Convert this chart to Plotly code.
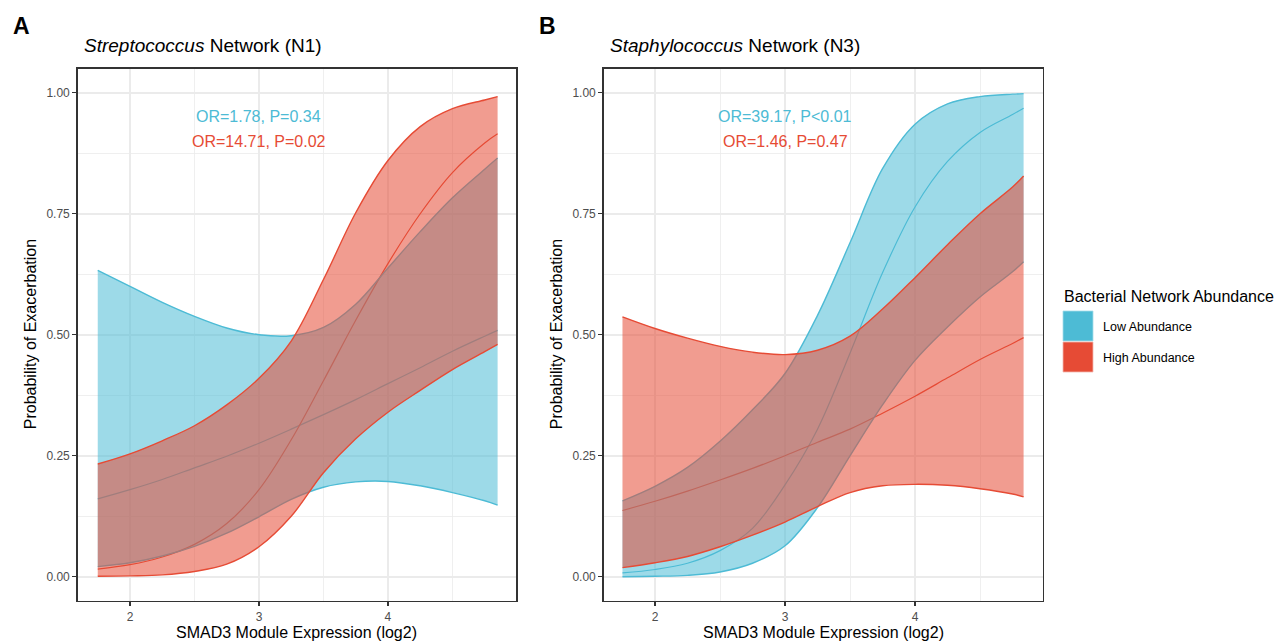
import plotly.graph_objects as go

# ---------------- data ----------------
x_a = [1.75, 2.0, 2.25, 2.5, 2.75, 3.0, 3.25, 3.5, 3.75, 4.0, 4.25, 4.5, 4.75, 4.85]
x_b = [1.75, 2.0, 2.25, 2.5, 2.75, 3.0, 3.25, 3.5, 3.75, 4.0, 4.25, 4.5, 4.75, 4.835]

groups = ["Low Abundance", "High Abundance"]

# Panel A: Streptococcus Network (N1)
low_fit_a = [0.161, 0.180, 0.201, 0.225, 0.249, 0.276, 0.305, 0.335, 0.366, 0.399, 0.432, 0.466, 0.497, 0.509]
low_lo_a = [0.021, 0.029, 0.043, 0.063, 0.090, 0.124, 0.160, 0.185, 0.196, 0.197, 0.188, 0.174, 0.157, 0.148]
low_hi_a = [0.633, 0.600, 0.567, 0.538, 0.514, 0.500, 0.498, 0.515, 0.563, 0.638, 0.713, 0.783, 0.842, 0.865]
high_fit_a = [0.016, 0.025, 0.041, 0.067, 0.110, 0.180, 0.283, 0.405, 0.530, 0.647, 0.750, 0.835, 0.896, 0.915]
high_lo_a = [0.001, 0.002, 0.004, 0.011, 0.026, 0.062, 0.125, 0.215, 0.285, 0.340, 0.385, 0.428, 0.465, 0.480]
high_hi_a = [0.233, 0.254, 0.281, 0.312, 0.355, 0.410, 0.487, 0.614, 0.752, 0.860, 0.930, 0.967, 0.985, 0.992]

# Panel B: Staphylococcus Network (N3)
low_fit_b = [0.008, 0.015, 0.028, 0.054, 0.100, 0.190, 0.305, 0.462, 0.628, 0.764, 0.858, 0.918, 0.955, 0.968]
low_lo_b = [0.000, 0.001, 0.003, 0.010, 0.028, 0.064, 0.143, 0.250, 0.355, 0.447, 0.516, 0.578, 0.630, 0.651]
low_hi_b = [0.157, 0.187, 0.226, 0.280, 0.345, 0.420, 0.540, 0.690, 0.843, 0.935, 0.977, 0.992, 0.997, 0.998]
high_fit_b = [0.137, 0.156, 0.177, 0.200, 0.224, 0.250, 0.278, 0.305, 0.338, 0.373, 0.411, 0.449, 0.482, 0.494]
high_lo_b = [0.019, 0.029, 0.042, 0.062, 0.086, 0.113, 0.145, 0.174, 0.188, 0.191, 0.189, 0.182, 0.171, 0.165]
high_hi_b = [0.537, 0.513, 0.493, 0.476, 0.464, 0.459, 0.468, 0.497, 0.553, 0.618, 0.686, 0.750, 0.805, 0.828]

stats_a = ["OR=1.78, P=0.34", "OR=14.71, P=0.02"]
stats_b = ["OR=39.17, P<0.01", "OR=1.46, P=0.47"]
stat_x = 3.0
stat_y = [0.95, 0.90]

titles = ["<i>Streptococcus</i> Network (N1)", "<i>Staphylococcus</i> Network (N3)"]
panel_labels = ["A", "B"]
x_title = "SMAD3 Module Expression (log2)"
y_title = "Probability of Exacerbation"
legend_title = "Bacterial Network Abundance"

x_ticks = [2, 3, 4]
x_minor = [2.5, 3.5, 4.5]
y_ticks = [0.0, 0.25, 0.5, 0.75, 1.0]
y_minor = [0.125, 0.375, 0.625, 0.875]

# ---------------- styling ----------------
W, H = 1275, 641
FONT = "Liberation Sans, Arial, Helvetica, sans-serif"
colors = ["#4DBBD5", "#E64B35"]
fills = ["rgba(77,187,213,0.55)", "rgba(230,75,53,0.55)"]


def px(v):
    return v / W


def py(v):
    return 1 - v / H


fig = go.Figure()


def add_panel(x, fits, bands, xa, ya):
    # fitted lines first (they sit underneath the ribbons)
    for fit, col in zip(fits, colors):
        fig.add_trace(go.Scatter(x=x, y=fit, mode="lines", xaxis=xa, yaxis=ya,
                                 line=dict(color=col, width=1.2, shape="spline", smoothing=1),
                                 showlegend=False, hoverinfo="skip"))
    for (lo, hi), col, fc in zip(bands, colors, fills):
        fig.add_trace(go.Scatter(x=x, y=lo, mode="lines", xaxis=xa, yaxis=ya,
                                 line=dict(color=col, width=1.4, shape="spline", smoothing=1),
                                 showlegend=False, hoverinfo="skip"))
        fig.add_trace(go.Scatter(x=x, y=hi, mode="lines", xaxis=xa, yaxis=ya, fill="tonexty",
                                 fillcolor=fc,
                                 line=dict(color=col, width=1.4, shape="spline", smoothing=1),
                                 showlegend=False, hoverinfo="skip"))


add_panel(x_a, [low_fit_a, high_fit_a], [(low_lo_a, low_hi_a), (high_lo_a, high_hi_a)], "x", "y")
add_panel(x_b, [low_fit_b, high_fit_b], [(low_lo_b, low_hi_b), (high_lo_b, high_hi_b)], "x2", "y2")

# panel geometry (pixels in the screenshot)
panel_px = [(77.5, 516.3), (603.5, 1042.7)]
top_px, bot_px = 68.5, 601
x_ranges = [[1.593, 4.995], [1.604, 4.982]]

axis_common = dict(showline=True, linecolor="#333333", linewidth=1.3, mirror=True,
                   ticks="outside", ticklen=4, tickwidth=1.1, tickcolor="#333333",
                   showgrid=True, gridcolor="#EBEBEB", gridwidth=1.6, zeroline=False,
                   tickfont=dict(family=FONT, size=12, color="#4D4D4D"))

for i, (l, r) in enumerate(panel_px):
    sx = "" if i == 0 else str(i + 1)
    fig.update_layout(**{
        "xaxis" + sx: dict(axis_common, domain=[px(l), px(r)], range=x_ranges[i],
                           tickvals=x_ticks, ticktext=[str(t) for t in x_ticks],
                           anchor="y" + sx,
                           minor=dict(tickvals=x_minor, showgrid=True, gridcolor="#EBEBEB",
                                      gridwidth=0.8, ticks="")),
        "yaxis" + sx: dict(axis_common, domain=[py(bot_px), py(top_px)], range=[-0.05, 1.05],
                           tickvals=y_ticks, ticktext=["%.2f" % t for t in y_ticks],
                           anchor="x" + sx,
                           minor=dict(tickvals=y_minor, showgrid=True, gridcolor="#EBEBEB",
                                      gridwidth=0.8, ticks="")),
    })

ann = []
for i, (l, r) in enumerate(panel_px):
    sx = "" if i == 0 else str(i + 1)
    stats = stats_a if i == 0 else stats_b
    for txt, yy, col in zip(stats, stat_y, colors):
        ann.append(dict(x=stat_x, y=yy, xref="x" + sx, yref="y" + sx, text=txt, showarrow=False,
                        xanchor="center", yanchor="middle",
                        font=dict(family=FONT, size=16, color=col)))
    # panel label
    ann.append(dict(x=px(l - 67), y=py(26), xref="paper", yref="paper", text="<b>%s</b>" % panel_labels[i],
                    showarrow=False, xanchor="left", yanchor="middle",
                    font=dict(family=FONT, size=23, color="black")))
    # title
    ann.append(dict(x=px(l + 4), y=py(45), xref="paper", yref="paper", text=titles[i],
                    showarrow=False, xanchor="left", yanchor="middle",
                    font=dict(family=FONT, size=19, color="black")))
    # x title
    ann.append(dict(x=px((l + r) / 2), y=py(632), xref="paper", yref="paper", text=x_title,
                    showarrow=False, xanchor="center", yanchor="middle",
                    font=dict(family=FONT, size=16, color="black")))
    # y title
    ann.append(dict(x=px(l - 47), y=py((top_px + bot_px) / 2), xref="paper", yref="paper",
                    text=y_title, textangle=-90, showarrow=False, xanchor="center", yanchor="middle",
                    font=dict(family=FONT, size=16, color="black")))

# legend (drawn manually)
ann.append(dict(x=px(1062), y=py(296), xref="paper", yref="paper", text=legend_title,
                showarrow=False, xanchor="left", yanchor="middle",
                font=dict(family=FONT, size=16, color="black")))
shapes = []
key_tops = [311, 342]
key_edges = ["#A6DDEA", "#F3B7AE"]
for g, col, kt, ke in zip(groups, colors, key_tops, key_edges):
    shapes.append(dict(type="rect", xref="paper", yref="paper", x0=px(1063), x1=px(1093),
                       y0=py(kt + 30), y1=py(kt), fillcolor=col, line=dict(width=0.8, color=ke)))
    ann.append(dict(x=px(1101), y=py(kt + 15.5), xref="paper", yref="paper", text=g,
                    showarrow=False, xanchor="left", yanchor="middle",
                    font=dict(family=FONT, size=12.5, color="black")))

fig.update_layout(width=W, height=H, autosize=False,
                  margin=dict(l=0, r=0, t=0, b=0),
                  paper_bgcolor="white", plot_bgcolor="white",
                  showlegend=False, annotations=ann, shapes=shapes,
                  font=dict(family=FONT))

fig.write_html("out.html", config={"displayModeBar": False, "staticPlot": True},
               post_script="document.body.style.margin='0px';document.body.style.overflow='hidden';")
